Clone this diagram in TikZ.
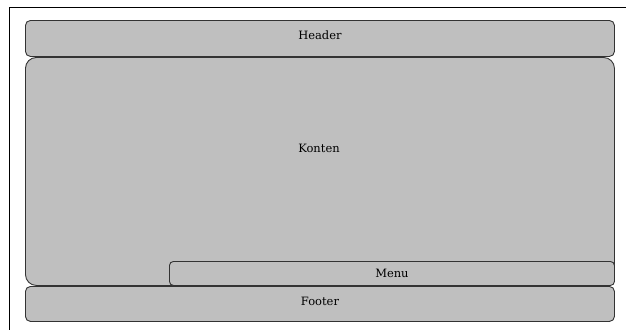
\documentclass[tikz,border=0pt]{standalone}
\usepackage{fontspec}
\setmainfont{DejaVu Serif}
\begin{document}
\begin{tikzpicture}[x=1pt,y=-1pt,
  box/.style={draw=black!80, fill=black!25, line width=0.9pt, rounded corners=5pt, inner sep=0pt, anchor=north west},
  lbl/.style={font=\fontsize{11.5}{13}\selectfont, inner sep=0pt}]
\useasboundingbox (0,0) rectangle (626,330);
\fill[white] (0,0) rectangle (626,330);
\coordinate (ftop) at (626,7);
\coordinate (fcorner) at (9,7);
\coordinate (fbot) at (9,330);
\draw[black, line width=1pt] (ftop) -- (fcorner) -- (fbot);
\node[box, rounded corners=11pt, minimum width=589, minimum height=228] (konten) at (25,57) {};
\node[lbl] (kontenlbl) at (319,148) {Konten};
\node[box, rounded corners=4pt, minimum width=445, minimum height=24] (menu) at (169,261) {};
\node[lbl] at ([yshift=0.5]menu.center) {Menu};
\node[box, minimum width=589, minimum height=36] (header) at (25,20) {};
\node[lbl] at ([yshift=3]header.center) {Header};
\node[box, minimum width=589, minimum height=35] (footer) at (25,286) {};
\node[lbl] at ([yshift=3]footer.center) {Footer};
\end{tikzpicture}
\end{document}
